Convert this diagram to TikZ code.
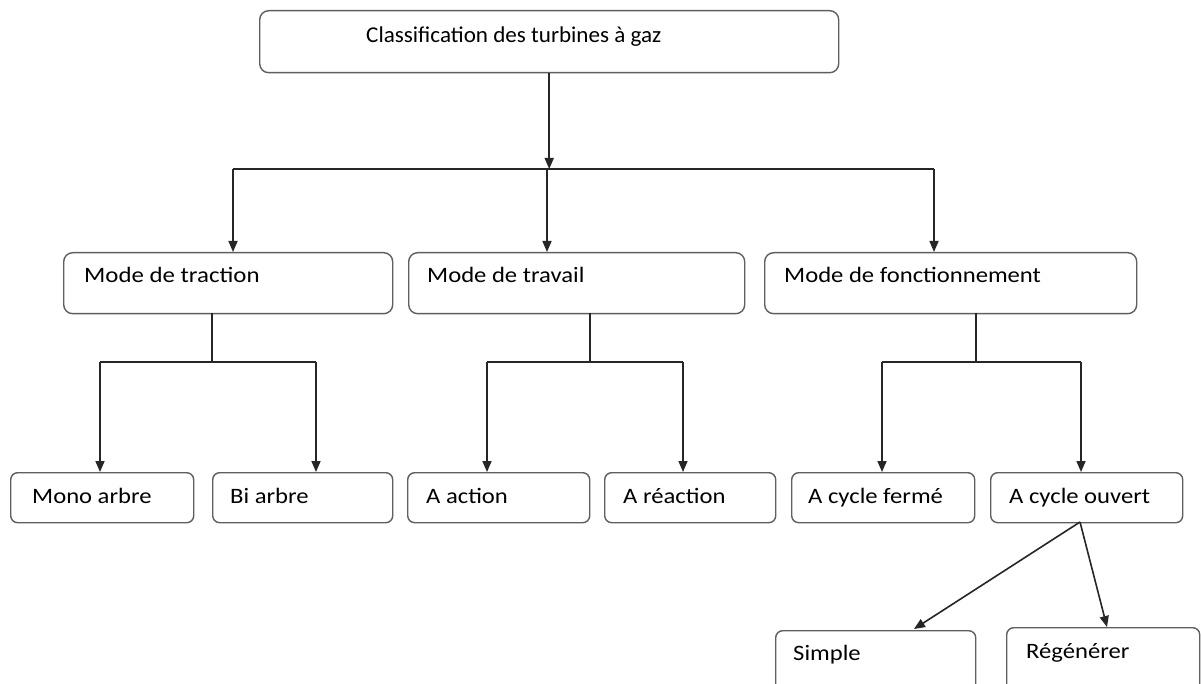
\documentclass[tikz,border=0pt]{standalone}
\usepackage{fontspec}
\setmainfont{Carlito}
\usetikzlibrary{arrows.meta}
\tikzset{
  box/.style={draw=boxgray, line width=1.4pt, rounded corners=9pt, anchor=north west, inner sep=0pt},
  sbox/.style={box, rounded corners=7pt},
  lbl/.style={anchor=base west, inner sep=0pt, font=\fontsize{22}{26}\selectfont, text=black},
  conn/.style={draw=black!85, line width=1.6pt},
  arr/.style={conn, -{Triangle[length=11pt, width=9pt]}},
}
\definecolor{boxgray}{RGB}{95,95,95}
\begin{document}
\begin{tikzpicture}[x=1pt, y=-1pt]
\useasboundingbox (0,0) rectangle (1201,684);
\clip (0,0) rectangle (1201,684);
\fill[white] (0,0) rectangle (1201,684);
% top
\node[box, minimum width=579pt, minimum height=62pt] (top) at (259,10) {};
\node[lbl] (topt) at (366,43) {\scalebox{1.05}[1.03]{Classification des turbines à gaz}};
% level 2
\node[box, minimum width=329pt, minimum height=61pt] (mA) at (63,252) {};
\node[lbl] (mAt) at (84,283) {\scalebox{1.13}[1]{Mode de traction}};
\node[box, minimum width=336pt, minimum height=61pt] (mB) at (408,252) {};
\node[lbl] (mBt) at (427,283) {\scalebox{1.12}[1]{Mode de travail}};
\node[box, minimum width=372pt, minimum height=61pt] (mC) at (764,252) {};
\node[lbl] (mCt) at (784,283) {\scalebox{1.12}[1]{Mode de fonctionnement}};
% level 3
\node[sbox, minimum width=183pt, minimum height=50pt] (mono) at (10,472) {};
\node[lbl] (monot) at (32,503) {\scalebox{1.12}[1]{Mono arbre}};
\node[sbox, minimum width=180pt, minimum height=50pt] (bi) at (212,472) {};
\node[lbl] (bit) at (230,503) {\scalebox{1.12}[1]{Bi arbre}};
\node[sbox, minimum width=182pt, minimum height=50pt] (act) at (407,472) {};
\node[lbl] (actt) at (426,503) {\scalebox{1.12}[1]{A action}};
\node[sbox, minimum width=171pt, minimum height=50pt] (rea) at (604,472) {};
\node[lbl] (reat) at (623,503) {\scalebox{1.12}[1]{A réaction}};
\node[sbox, minimum width=183pt, minimum height=50pt] (fer) at (791,472) {};
\node[lbl] (fert) at (808,503) {\scalebox{1.12}[1]{A cycle fermé}};
\node[sbox, minimum width=192pt, minimum height=50pt] (ouv) at (990,472) {};
\node[lbl] (ouvt) at (1009,503) {\scalebox{1.12}[1]{A cycle ouvert}};
% level 4
\node[sbox, minimum width=200pt, minimum height=70pt] (sim) at (775,630) {};
\node[lbl] (simt) at (793,660) {\scalebox{1.12}[1]{Simple}};
\node[sbox, minimum width=193pt, minimum height=70pt] (reg) at (1006,627) {};
\node[lbl] (regt) at (1026,658) {\scalebox{1.12}[1]{Régénérer}};
% connectors level 1-2
\coordinate (j0) at (top.south |- 0,169);
\coordinate (jL) at (233,169);
\coordinate (jR) at (934,169);
\coordinate (jM) at (547,169);
\draw[arr] (top.south) -- (j0);
\draw[conn] (jL) -- (jR);
\draw[arr] (jL) -- (jL |- mA.north);
\draw[arr] (jM) -- (jM |- mB.north);
\draw[arr] (jR) -- (jR |- mC.north);
% level 2-3
\coordinate (aA) at (212,313);
\coordinate (bA) at (212,362);
\draw[conn] (aA) -- (bA);
\coordinate (lA) at (100,362);
\coordinate (rA) at (316,362);
\draw[conn] (lA) -- (rA);
\draw[arr] (lA) -- (lA |- mono.north);
\draw[arr] (rA) -- (rA |- bi.north);
\coordinate (aB) at (590,313);
\coordinate (bB) at (590,362);
\draw[conn] (aB) -- (bB);
\coordinate (lB) at (487,362);
\coordinate (rB) at (683,362);
\draw[conn] (lB) -- (rB);
\draw[arr] (lB) -- (lB |- act.north);
\draw[arr] (rB) -- (rB |- rea.north);
\coordinate (aC) at (976,313);
\coordinate (bC) at (976,362);
\draw[conn] (aC) -- (bC);
\coordinate (lC) at (882,362);
\coordinate (rC) at (1081,362);
\draw[conn] (lC) -- (rC);
\draw[arr] (lC) -- (lC |- fer.north);
\draw[arr] (rC) -- (rC |- ouv.north);
% level 3-4
\coordinate (oB) at (1080,522);
\draw[arr] (oB) -- (914,629);
\draw[arr] (oB) -- (1107,627);
\end{tikzpicture}
\end{document}
